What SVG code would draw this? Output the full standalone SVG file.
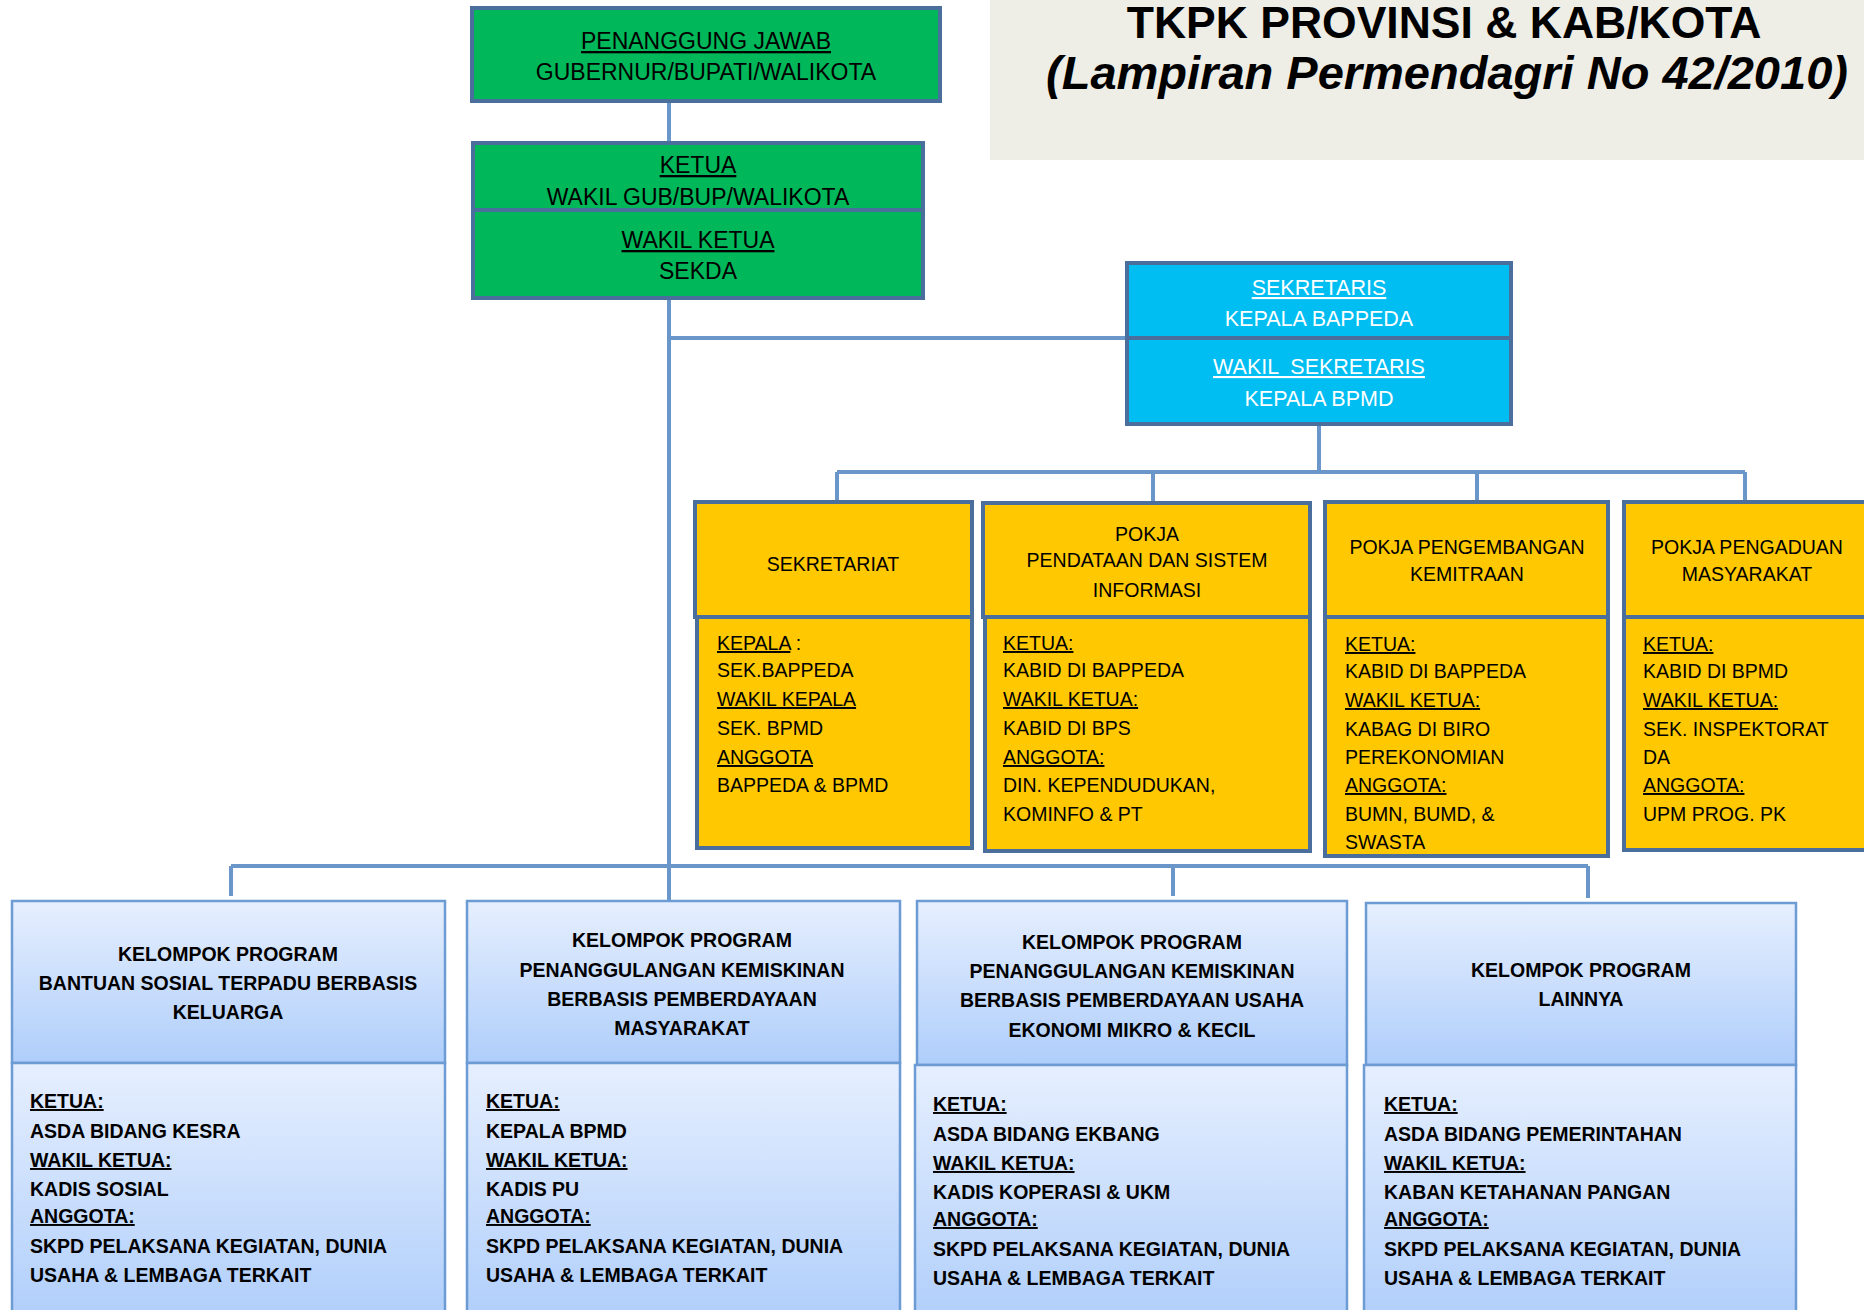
<svg xmlns="http://www.w3.org/2000/svg" width="1864" height="1310" viewBox="0 0 1864 1310">
<defs>
<linearGradient id="gb" x1="0" y1="0" x2="0" y2="1"><stop offset="0" stop-color="#e6effe"/><stop offset="1" stop-color="#afcefb"/></linearGradient>
<style>
text{font-family:"Liberation Sans",Arial,sans-serif;fill:#000}
.g{fill:#00b859;stroke:#4b6f9c;stroke-width:4}
.c{fill:#00bdf2;stroke:#4b6f9c;stroke-width:4}
.y{fill:#ffc800;stroke:#4b6f9c;stroke-width:4}
.b{fill:url(#gb);stroke:#6d9bd4;stroke-width:2.5}
.ln{stroke:#6a96ca;stroke-width:4;fill:none}
.u{text-decoration:underline}
.m{text-anchor:middle}
.gt{font-size:23px}
.ct{font-size:21.5px;fill:#fff}
.yt{font-size:19.5px}
.bt{font-size:19.5px;font-weight:bold}
</style>
</defs>
<rect id="title-bg" x="990" y="0" width="874" height="160" fill="#eeede6"/>
<g id="title">
<text x="1444" y="38" class="m" style="font-size:44.5px;font-weight:bold">TKPK PROVINSI &amp; KAB/KOTA</text>
<text x="1447" y="89" class="m" style="font-size:47px;font-weight:bold;font-style:italic">(Lampiran Permendagri No 42/2010)</text>
</g>
<g id="connectors">
<path class="ln" d="M669 101V143M669 298V901M669 338H1127M1319 424V472M837 472H1745M837 472V502M1153 472V503M1477 472V502M1745 472V502M231 866H1588M231 866V896M1173 866V896M1588 866V898"/>
</g>
<g id="penanggung-jawab">
<rect class="g" x="472" y="8" width="468" height="93"/>
<text x="706" y="49" class="m gt u">PENANGGUNG JAWAB</text>
<text x="706" y="80" class="m gt">GUBERNUR/BUPATI/WALIKOTA</text>
</g>
<g id="ketua">
<rect class="g" x="473" y="143" width="450" height="67"/>
<text x="698" y="173" class="m gt u">KETUA</text>
<text x="698" y="205" class="m gt">WAKIL GUB/BUP/WALIKOTA</text>
</g>
<g id="wakil-ketua">
<rect class="g" x="473" y="210" width="450" height="88"/>
<text x="698" y="248" class="m gt u">WAKIL KETUA</text>
<text x="698" y="279" class="m gt">SEKDA</text>
</g>
<g id="sekretaris">
<rect class="c" x="1127" y="263" width="384" height="75"/>
<text x="1319" y="295" class="m ct u">SEKRETARIS</text>
<text x="1319" y="326" class="m ct">KEPALA BAPPEDA</text>
</g>
<g id="wakil-sekretaris">
<rect class="c" x="1127" y="338" width="384" height="86"/>
<text x="1319" y="374" class="m ct u" xml:space="preserve">WAKIL  SEKRETARIS</text>
<text x="1319" y="406" class="m ct">KEPALA BPMD</text>
</g>
<g id="sekretariat">
<rect class="y" x="695" y="502" width="277" height="115"/>
<rect class="y" x="697" y="617" width="275" height="231"/>
<text x="833" y="571" class="m yt">SEKRETARIAT</text>
<text x="717" y="650" class="yt"><tspan class="u">KEPALA</tspan> :</text>
<text x="717" y="677" class="yt">SEK.BAPPEDA</text>
<text x="717" y="706" class="yt u">WAKIL KEPALA</text>
<text x="717" y="735" class="yt">SEK. BPMD</text>
<text x="717" y="764" class="yt u">ANGGOTA</text>
<text x="717" y="792" class="yt">BAPPEDA &amp; BPMD</text>
</g>
<g id="pokja-pendataan">
<rect class="y" x="983" y="503" width="327" height="114"/>
<rect class="y" x="985" y="617" width="325" height="234"/>
<text x="1147" y="541" class="m yt">POKJA</text>
<text x="1147" y="567" class="m yt">PENDATAAN DAN SISTEM</text>
<text x="1147" y="597" class="m yt">INFORMASI</text>
<text x="1003" y="650" class="yt u">KETUA:</text>
<text x="1003" y="677" class="yt">KABID DI BAPPEDA</text>
<text x="1003" y="706" class="yt u">WAKIL KETUA:</text>
<text x="1003" y="735" class="yt">KABID DI BPS</text>
<text x="1003" y="764" class="yt u">ANGGOTA:</text>
<text x="1003" y="792" class="yt">DIN. KEPENDUDUKAN,</text>
<text x="1003" y="821" class="yt">KOMINFO &amp; PT</text>
</g>
<g id="pokja-kemitraan">
<rect class="y" x="1325" y="502" width="283" height="115"/>
<rect class="y" x="1325" y="617" width="283" height="239"/>
<text x="1467" y="554" class="m yt">POKJA PENGEMBANGAN</text>
<text x="1467" y="581" class="m yt">KEMITRAAN</text>
<text x="1345" y="651" class="yt u">KETUA:</text>
<text x="1345" y="678" class="yt">KABID DI BAPPEDA</text>
<text x="1345" y="707" class="yt u">WAKIL KETUA:</text>
<text x="1345" y="736" class="yt">KABAG DI BIRO</text>
<text x="1345" y="764" class="yt">PEREKONOMIAN</text>
<text x="1345" y="792" class="yt u">ANGGOTA:</text>
<text x="1345" y="821" class="yt">BUMN, BUMD, &amp;</text>
<text x="1345" y="849" class="yt">SWASTA</text>
</g>
<g id="pokja-pengaduan">
<rect class="y" x="1624" y="502" width="270" height="115"/>
<rect class="y" x="1624" y="617" width="270" height="233"/>
<text x="1747" y="554" class="m yt">POKJA PENGADUAN</text>
<text x="1747" y="581" class="m yt">MASYARAKAT</text>
<text x="1643" y="651" class="yt u">KETUA:</text>
<text x="1643" y="678" class="yt">KABID DI BPMD</text>
<text x="1643" y="707" class="yt u">WAKIL KETUA:</text>
<text x="1643" y="736" class="yt">SEK. INSPEKTORAT</text>
<text x="1643" y="764" class="yt">DA</text>
<text x="1643" y="792" class="yt u">ANGGOTA:</text>
<text x="1643" y="821" class="yt">UPM PROG. PK</text>
</g>
<g id="kp-bantuan-sosial">
<rect class="b" x="12" y="901" width="433" height="162"/>
<rect class="b" x="12" y="1063" width="433" height="260"/>
<text x="228" y="961" class="m bt">KELOMPOK PROGRAM</text>
<text x="228" y="990" class="m bt">BANTUAN SOSIAL TERPADU BERBASIS</text>
<text x="228" y="1019" class="m bt">KELUARGA</text>
<text x="30" y="1108" class="bt u">KETUA:</text>
<text x="30" y="1138" class="bt">ASDA BIDANG KESRA</text>
<text x="30" y="1167" class="bt u">WAKIL KETUA:</text>
<text x="30" y="1196" class="bt">KADIS SOSIAL</text>
<text x="30" y="1223" class="bt u">ANGGOTA:</text>
<text x="30" y="1253" class="bt">SKPD PELAKSANA KEGIATAN, DUNIA</text>
<text x="30" y="1282" class="bt">USAHA &amp; LEMBAGA TERKAIT</text>
</g>
<g id="kp-pemberdayaan-masyarakat">
<rect class="b" x="467" y="901" width="433" height="162"/>
<rect class="b" x="467" y="1063" width="433" height="260"/>
<text x="682" y="947" class="m bt">KELOMPOK PROGRAM</text>
<text x="682" y="977" class="m bt">PENANGGULANGAN KEMISKINAN</text>
<text x="682" y="1006" class="m bt">BERBASIS PEMBERDAYAAN</text>
<text x="682" y="1035" class="m bt">MASYARAKAT</text>
<text x="486" y="1108" class="bt u">KETUA:</text>
<text x="486" y="1138" class="bt">KEPALA BPMD</text>
<text x="486" y="1167" class="bt u">WAKIL KETUA:</text>
<text x="486" y="1196" class="bt">KADIS PU</text>
<text x="486" y="1223" class="bt u">ANGGOTA:</text>
<text x="486" y="1253" class="bt">SKPD PELAKSANA KEGIATAN, DUNIA</text>
<text x="486" y="1282" class="bt">USAHA &amp; LEMBAGA TERKAIT</text>
</g>
<g id="kp-usaha-mikro">
<rect class="b" x="917" y="901" width="430" height="164"/>
<rect class="b" x="915" y="1065" width="432" height="260"/>
<text x="1132" y="949" class="m bt">KELOMPOK PROGRAM</text>
<text x="1132" y="978" class="m bt">PENANGGULANGAN KEMISKINAN</text>
<text x="1132" y="1007" class="m bt">BERBASIS PEMBERDAYAAN USAHA</text>
<text x="1132" y="1037" class="m bt">EKONOMI MIKRO &amp; KECIL</text>
<text x="933" y="1111" class="bt u">KETUA:</text>
<text x="933" y="1141" class="bt">ASDA BIDANG EKBANG</text>
<text x="933" y="1170" class="bt u">WAKIL KETUA:</text>
<text x="933" y="1199" class="bt">KADIS KOPERASI &amp; UKM</text>
<text x="933" y="1226" class="bt u">ANGGOTA:</text>
<text x="933" y="1256" class="bt">SKPD PELAKSANA KEGIATAN, DUNIA</text>
<text x="933" y="1285" class="bt">USAHA &amp; LEMBAGA TERKAIT</text>
</g>
<g id="kp-lainnya">
<rect class="b" x="1366" y="903" width="430" height="162"/>
<rect class="b" x="1364" y="1065" width="432" height="260"/>
<text x="1581" y="977" class="m bt">KELOMPOK PROGRAM</text>
<text x="1581" y="1006" class="m bt">LAINNYA</text>
<text x="1384" y="1111" class="bt u">KETUA:</text>
<text x="1384" y="1141" class="bt">ASDA BIDANG PEMERINTAHAN</text>
<text x="1384" y="1170" class="bt u">WAKIL KETUA:</text>
<text x="1384" y="1199" class="bt">KABAN KETAHANAN PANGAN</text>
<text x="1384" y="1226" class="bt u">ANGGOTA:</text>
<text x="1384" y="1256" class="bt">SKPD PELAKSANA KEGIATAN, DUNIA</text>
<text x="1384" y="1285" class="bt">USAHA &amp; LEMBAGA TERKAIT</text>
</g>
</svg>
